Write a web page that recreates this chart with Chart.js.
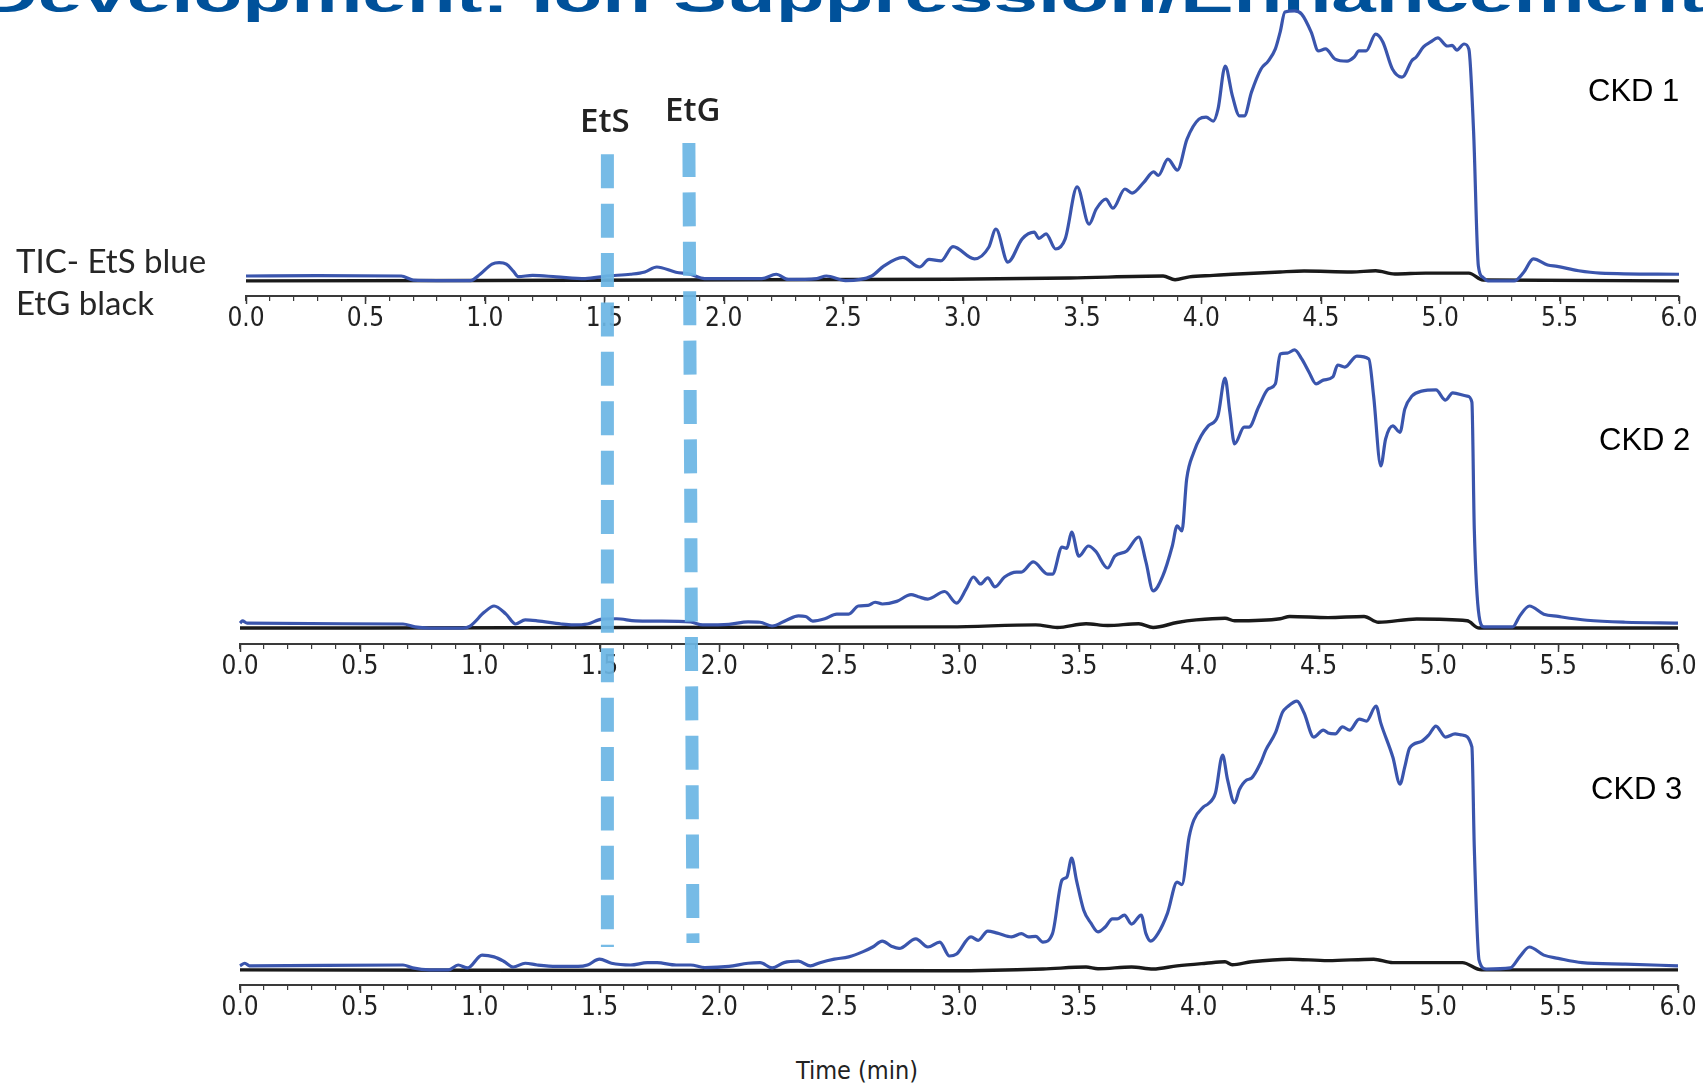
<!DOCTYPE html>
<html>
<head>
<meta charset="utf-8">
<title>Development: Ion Suppression/Enhancement</title>
<script src="https://cdn.jsdelivr.net/npm/chart.js@4.4.1/dist/chart.umd.min.js"></script>
<style>
  html, body { margin: 0; padding: 0; background: #fff; }
  #page { position: relative; width: 1703px; height: 1083px; overflow: hidden; background: #fff; }
  #page canvas { position: absolute; left: 0; }
  .txt { position: absolute; white-space: nowrap; line-height: 1; }
  .title {
    left: -20px; top: -59px;
    font: bold 80px 'Liberation Sans', Arial, sans-serif;
    color: #00519a;
    transform-origin: 0 68px; transform: scaleY(0.6);
  }
  .side { font: 33px Lato, 'Open Sans', sans-serif; color: #262626; }
  .ckd  { font: 31px 'Liberation Sans', Arial, sans-serif; color: #000; }
  .mark { font: 600 33px 'Open Sans', sans-serif; color: #222; }
  .axis-title { font: 25px 'Liberation Sans Narrow', 'DejaVu Sans Condensed', 'Liberation Sans', sans-serif; color: #222; transform: translateX(-50%); }
</style>
</head>
<body>
<div id="page">
  <div class="txt title">Development: Ion Suppression/Enhancement</div>

  <canvas id="ckd1" width="1703" height="350"></canvas>
  <canvas id="ckd2" width="1703" height="350"></canvas>
  <canvas id="ckd3" width="1703" height="350"></canvas>

  <div class="txt side" style="left:16px; top:240px;">TIC- EtS blue</div>
  <div class="txt side" style="left:16px; top:282px;">EtG black</div>

  <div class="txt ckd" style="left:1588px; top:73px;">CKD 1</div>
  <div class="txt ckd" style="left:1599px; top:422px;">CKD 2</div>
  <div class="txt ckd" style="left:1591px; top:771px;">CKD 3</div>

  <div class="txt axis-title" style="left:857px; top:1056px;">Time (min)</div>

  <div class="txt mark" style="left:580px; top:97px;">EtS</div>
  <div class="txt mark" style="left:665px; top:86px;">EtG</div>

  <canvas id="markers" width="1703" height="1083" style="top:0; pointer-events:none;"></canvas>
</div>

<script>
/**
 * TIC traces, three CKD urine samples.
 * x = retention time (min), y = relative intensity (% of plot height).
 * Blue = EtS channel, black = EtG channel.
 */

var ckd1Time = [0.00, 0.30, 0.65, 0.70, 0.94, 0.98, 1.03, 1.06, 1.09, 1.12, 1.14, 1.20, 1.30, 1.42, 1.51, 1.61, 1.67, 1.72, 1.80, 1.86, 1.92,
                2.16, 2.22, 2.27, 2.39, 2.43, 2.51, 2.62, 2.67, 2.75, 2.82, 2.86, 2.91, 2.96, 3.05, 3.11, 3.14, 3.19, 3.25, 3.30, 3.32,
                3.35, 3.39, 3.43, 3.48, 3.53, 3.56, 3.60, 3.63, 3.68, 3.71, 3.76, 3.80, 3.82, 3.86, 3.90, 3.94, 3.99, 4.02, 4.05, 4.07,
                4.10, 4.13, 4.16, 4.18, 4.21, 4.25, 4.28, 4.31, 4.33, 4.35, 4.39, 4.42, 4.46, 4.49, 4.52, 4.56, 4.61, 4.64, 4.66, 4.69,
                4.73, 4.76, 4.80, 4.84, 4.85, 4.88, 4.90, 4.93, 4.96, 4.99, 5.03, 5.05, 5.07, 5.10, 5.12, 5.14, 5.16, 5.18, 5.20, 5.31,
                5.35, 5.39, 5.45, 5.49, 5.58, 5.67, 6.00];
var ckd1EtS  = [6.9, 7.0, 6.9, 5.5, 5.3, 7.5, 11.0, 11.5, 11.0, 8.5, 6.7, 7.1, 6.6, 6.0, 6.9, 7.5, 8.3, 10.0, 8.2, 7.5, 6.0,
                6.0, 7.5, 5.7, 6.0, 6.9, 5.3, 6.9, 10.3, 13.3, 10.0, 12.6, 12.1, 17.0, 12.8, 16.8, 23.1, 11.7, 19.7, 22.0, 19.9,
                21.4, 16.2, 19.7, 37.6, 24.8, 30.0, 33.4, 30.3, 36.9, 35.5, 39.3, 42.8, 41.6, 47.2, 43.4, 54.1, 61.0, 61.7, 60.3, 64.5,
                79.3, 69.0, 62.1, 62.1, 70.3, 78.3, 81.0, 85.2, 91.0, 97.9, 98.3, 97.2, 91.0, 84.5, 85.2, 81.7, 81.0, 82.4, 84.5, 84.5,
                90.3, 87.6, 78.3, 75.5, 76.0, 81.0, 82.4, 85.9, 87.6, 89.0, 86.2, 86.4, 84.8, 86.9, 85.2, 56.6, 10.3, 6.4, 5.2, 5.2,
                8.2, 12.8, 10.7, 10.2, 8.7, 7.9, 7.5];
var ckd1GTime = [0.00, 2.95, 3.45, 3.84, 3.89, 3.95, 4.05, 4.13, 4.33, 4.43, 4.63, 4.73, 4.81, 4.94, 5.12, 5.18, 6.00];
var ckd1EtG   = [5.2, 5.8, 6.2, 6.9, 5.6, 6.6, 7.1, 7.5, 8.3, 8.6, 8.3, 8.7, 7.6, 7.9, 7.9, 5.5, 5.2];

var ckd2Time = [0.00, 0.01, 0.03, 0.68, 0.73, 0.79, 0.93, 0.96, 1.02, 1.06, 1.11, 1.15, 1.19, 1.24, 1.34, 1.39, 1.45, 1.51, 1.57, 1.65,
                1.74, 1.88, 1.93, 2.04, 2.12, 2.17, 2.22, 2.28, 2.33, 2.36, 2.39, 2.44, 2.49, 2.54, 2.58, 2.62, 2.65, 2.68, 2.74, 2.80,
                2.83, 2.87, 2.94, 2.99, 3.03, 3.06, 3.09, 3.12, 3.15, 3.19, 3.24, 3.26, 3.31, 3.37, 3.39, 3.43, 3.45, 3.47, 3.50, 3.54,
                3.57, 3.62, 3.65, 3.70, 3.75, 3.78, 3.81, 3.85, 3.89, 3.91, 3.93, 3.95, 3.98, 4.01, 4.04, 4.08, 4.11, 4.13, 4.15, 4.19,
                4.21, 4.25, 4.29, 4.32, 4.34, 4.37, 4.40, 4.43, 4.46, 4.49, 4.52, 4.56, 4.58, 4.61, 4.66, 4.71, 4.73, 4.76, 4.78, 4.81,
                4.84, 4.86, 4.89, 4.93, 4.99, 5.03, 5.06, 5.12, 5.14, 5.15, 5.17, 5.19, 5.31, 5.34, 5.38, 5.44, 5.50, 5.62, 5.78, 6.00];
var ckd2EtS  = [7.2, 8.0, 7.2, 6.9, 5.9, 5.5, 5.5, 6.2, 11.0, 13.1, 10.3, 6.9, 8.3, 8.0, 6.9, 6.6, 6.9, 8.6, 8.7, 8.0,
                7.9, 7.6, 6.6, 6.8, 7.6, 7.5, 6.2, 8.2, 9.7, 9.5, 7.9, 8.7, 10.3, 10.3, 13.1, 13.3, 14.4, 13.8, 14.7, 17.0,
                16.3, 15.5, 18.1, 14.1, 19.0, 23.1, 20.7, 22.8, 19.7, 23.1, 24.8, 24.8, 28.3, 24.1, 24.1, 33.4, 33.0, 38.6, 30.3, 33.8,
                32.0, 26.2, 30.3, 32.1, 36.9, 28.3, 18.3, 23.4, 33.8, 40.7, 39.0, 56.9, 66.2, 71.7, 75.2, 78.6, 91.7, 80.0, 69.0, 74.8,
                74.8, 81.7, 87.9, 89.7, 100.0, 100.3, 101.4, 98.3, 93.8, 89.7, 91.0, 92.1, 96.2, 95.5, 99.3, 98.3, 85.5, 61.4, 70.7, 75.2,
                73.0, 81.0, 85.5, 87.2, 87.6, 84.1, 86.6, 85.5, 83.4, 39.7, 9.7, 5.9, 5.9, 9.7, 13.1, 10.3, 9.5, 8.2, 7.5, 7.2];
var ckd2GTime = [0.00, 2.96, 3.32, 3.41, 3.53, 3.62, 3.75, 3.81, 3.91, 3.99, 4.11, 4.15, 4.34, 4.38, 4.54, 4.69, 4.75, 4.91, 5.12, 5.17, 6.00];
var ckd2EtG   = [5.5, 5.9, 6.6, 5.7, 7.0, 6.4, 7.0, 5.7, 7.4, 8.3, 8.9, 8.0, 8.7, 9.5, 9.1, 9.5, 7.5, 8.6, 8.0, 5.5, 5.5];

var ckd3Time = [0.00, 0.02, 0.04, 0.68, 0.72, 0.79, 0.87, 0.91, 0.95, 1.01, 1.06, 1.10, 1.14, 1.19, 1.24, 1.32, 1.41, 1.45, 1.50, 1.55,
                1.63, 1.70, 1.74, 1.82, 1.88, 1.94, 2.04, 2.12, 2.17, 2.22, 2.27, 2.33, 2.38, 2.42, 2.48, 2.54, 2.60, 2.64, 2.68, 2.72,
                2.75, 2.82, 2.87, 2.92, 2.96, 2.99, 3.05, 3.08, 3.12, 3.16, 3.22, 3.26, 3.29, 3.32, 3.35, 3.39, 3.43, 3.45, 3.47, 3.49,
                3.52, 3.55, 3.58, 3.61, 3.64, 3.66, 3.69, 3.72, 3.76, 3.78, 3.80, 3.83, 3.87, 3.91, 3.93, 3.96, 3.98, 4.02, 4.04, 4.07,
                4.10, 4.12, 4.15, 4.17, 4.20, 4.22, 4.26, 4.28, 4.32, 4.35, 4.37, 4.41, 4.44, 4.48, 4.52, 4.54, 4.57, 4.60, 4.63, 4.67,
                4.70, 4.74, 4.76, 4.81, 4.84, 4.86, 4.88, 4.93, 4.96, 4.99, 5.03, 5.07, 5.10, 5.14, 5.15, 5.17, 5.20, 5.30, 5.34, 5.38,
                5.44, 5.50, 5.60, 5.78, 6.00];
var ckd3EtS  = [6.6, 7.5, 6.6, 6.9, 5.9, 5.2, 5.2, 6.9, 5.9, 10.3, 9.7, 8.2, 6.2, 7.5, 6.9, 6.4, 6.4, 6.9, 8.9, 7.5,
                6.9, 7.7, 7.7, 6.9, 6.9, 6.0, 6.4, 7.5, 7.7, 5.9, 7.7, 8.2, 6.6, 7.7, 8.9, 9.7, 11.5, 13.1, 15.1, 13.3,
                12.6, 15.9, 13.1, 14.8, 10.0, 10.7, 16.6, 15.4, 18.6, 17.9, 16.6, 17.7, 16.6, 16.8, 14.8, 17.7, 36.2, 37.2, 43.8, 36.2,
                25.9, 21.4, 18.3, 20.0, 22.8, 22.8, 24.1, 21.0, 24.1, 17.7, 15.1, 17.7, 24.8, 35.5, 34.6, 51.0, 56.9, 61.4, 62.5, 66.2,
                79.3, 71.0, 62.8, 67.4, 70.7, 71.3, 76.9, 81.0, 86.9, 94.1, 95.9, 97.9, 93.8, 85.5, 87.9, 86.9, 86.6, 89.0, 87.9, 91.7,
                91.0, 96.2, 90.3, 78.6, 69.3, 75.2, 81.7, 84.0, 86.2, 89.3, 85.5, 86.6, 86.2, 82.1, 47.6, 8.6, 5.5, 5.9, 9.8, 13.1,
                10.3, 9.2, 7.7, 7.2, 6.6];
var ckd3GTime = [0.00, 2.96, 3.35, 3.53, 3.58, 3.72, 3.81, 3.91, 4.03, 4.11, 4.14, 4.22, 4.38, 4.54, 4.73, 4.81, 5.10, 5.18, 6.00];
var ckd3EtG   = [5.2, 4.9, 5.5, 6.2, 5.6, 6.2, 5.5, 6.6, 7.5, 8.0, 7.0, 8.0, 8.9, 8.4, 8.9, 7.7, 7.7, 5.2, 5.2];

// labelled x ticks (min), minor ticks every 0.1
var tickLabels = ['0.0', '0.5', '1.0', '1.5', '2.0', '2.5', '3.0', '3.5', '4.0', '4.5', '5.0', '5.5', '6.0'];

// retention time windows of the two analytes (dashed markers), top / bottom end
var markerNames      = ['EtS', 'EtG'];
var markerTimeTop    = [1.533, 1.873];
var markerTimeBottom = [1.533, 1.890];


var blue     = '#3a55ad';
var black    = '#1a1a1a';
var axisGrey = '#3a3a3a';
var dashBlue = 'rgba(108, 182, 228, 0.93)';
var tickFont = "'Liberation Sans Narrow', 'DejaVu Sans Condensed', 'Liberation Sans', sans-serif";

var pts = (xs, ys) => xs.map((x, i) => ({x: x, y: ys[i]}));

// longer tick marks at the labelled positions
var majorTicks = {
    id: 'majorTicks',
    afterDraw(chart) {
        var sc  = chart.scales.x;
        var ctx = chart.ctx;
        ctx.save();
        ctx.strokeStyle = axisGrey;
        ctx.lineWidth = 1.5;
        tickLabels.forEach(t => {
            var px = Math.round(sc.getPixelForValue(parseFloat(t))) + 0.5;
            ctx.beginPath();
            ctx.moveTo(px, sc.top);
            ctx.lineTo(px, sc.top + 8);
            ctx.stroke();
        });
        ctx.restore();
    }
};

var panels = [
    {id: 'ckd1', axisY: 296, left: 246, right: 1679, t: ckd1Time, s: ckd1EtS, gt: ckd1GTime, g: ckd1EtG},
    {id: 'ckd2', axisY: 644, left: 240, right: 1678, t: ckd2Time, s: ckd2EtS, gt: ckd2GTime, g: ckd2EtG},
    {id: 'ckd3', axisY: 985, left: 240, right: 1678, t: ckd3Time, s: ckd3EtS, gt: ckd3GTime, g: ckd3EtG}
];

panels.forEach(p => {
    var cv = document.getElementById(p.id);
    cv.style.top = (p.axisY - 300) + 'px';

    new Chart(cv, {
        type: 'line',
        data: {
            datasets: [{
                label: 'EtS',
                data: pts(p.t, p.s),
                borderColor: blue,
                borderWidth: 3.2,
                pointRadius: 0,
                cubicInterpolationMode: 'monotone',
                clip: false
            }, {
                label: 'EtG',
                data: pts(p.gt, p.g),
                borderColor: black,
                borderWidth: 3.4,
                pointRadius: 0,
                cubicInterpolationMode: 'monotone',
                clip: false
            }]
        },
        options: {
            responsive: false,
            animation: false,
            devicePixelRatio: 1,
            events: [],
            layout: {padding: {left: p.left, right: 1703 - p.right, top: 10, bottom: 10}},
            plugins: {legend: {display: false}, tooltip: {enabled: false}},
            scales: {
                x: {
                    type: 'linear',
                    min: 0,
                    max: 6,
                    afterFit: s => { s.height = 40; },
                    border: {display: true, color: axisGrey, width: 2},
                    grid: {drawOnChartArea: false, drawTicks: true, tickLength: 5, color: axisGrey, lineWidth: 1.2},
                    ticks: {
                        stepSize: 0.1,
                        maxTicksLimit: 100,
                        autoSkip: false,
                        maxRotation: 0,
                        padding: 3,
                        color: '#222',
                        font: {family: tickFont, size: 26},
                        callback: v => {
                            var lbl = tickLabels.find(t => Math.abs(parseFloat(t) - v) < 1e-6);
                            return lbl === undefined ? '' : lbl;
                        }
                    }
                },
                y: {display: false, min: 0, max: 100}
            }
        },
        plugins: [majorTicks]
    });
});


/**
 * Dashed analyte markers, drawn across all three panels.
 */
var markerReach = [[0.986, 0], [1, 0.005]];

new Chart(document.getElementById('markers'), {
    type: 'line',
    data: {
        datasets: markerNames.map((n, i) => ({
            label: n,
            data: [{x: markerTimeTop[i], y: markerReach[i][0]}, {x: markerTimeBottom[i], y: markerReach[i][1]}],
            borderColor: dashBlue,
            borderWidth: 13,
            borderDash: [34, 15.4],
            borderCapStyle: 'butt',
            pointRadius: 0,
            clip: false
        }))
    },
    options: {
        responsive: false,
        animation: false,
        devicePixelRatio: 1,
        events: [],
        layout: {padding: {left: 240, right: 25, top: 143, bottom: 136}},
        plugins: {legend: {display: false}, tooltip: {enabled: false}},
        scales: {
            x: {type: 'linear', display: false, min: 0, max: 6},
            y: {display: false, min: 0, max: 1}
        }
    }
});
</script>
</body>
</html>
